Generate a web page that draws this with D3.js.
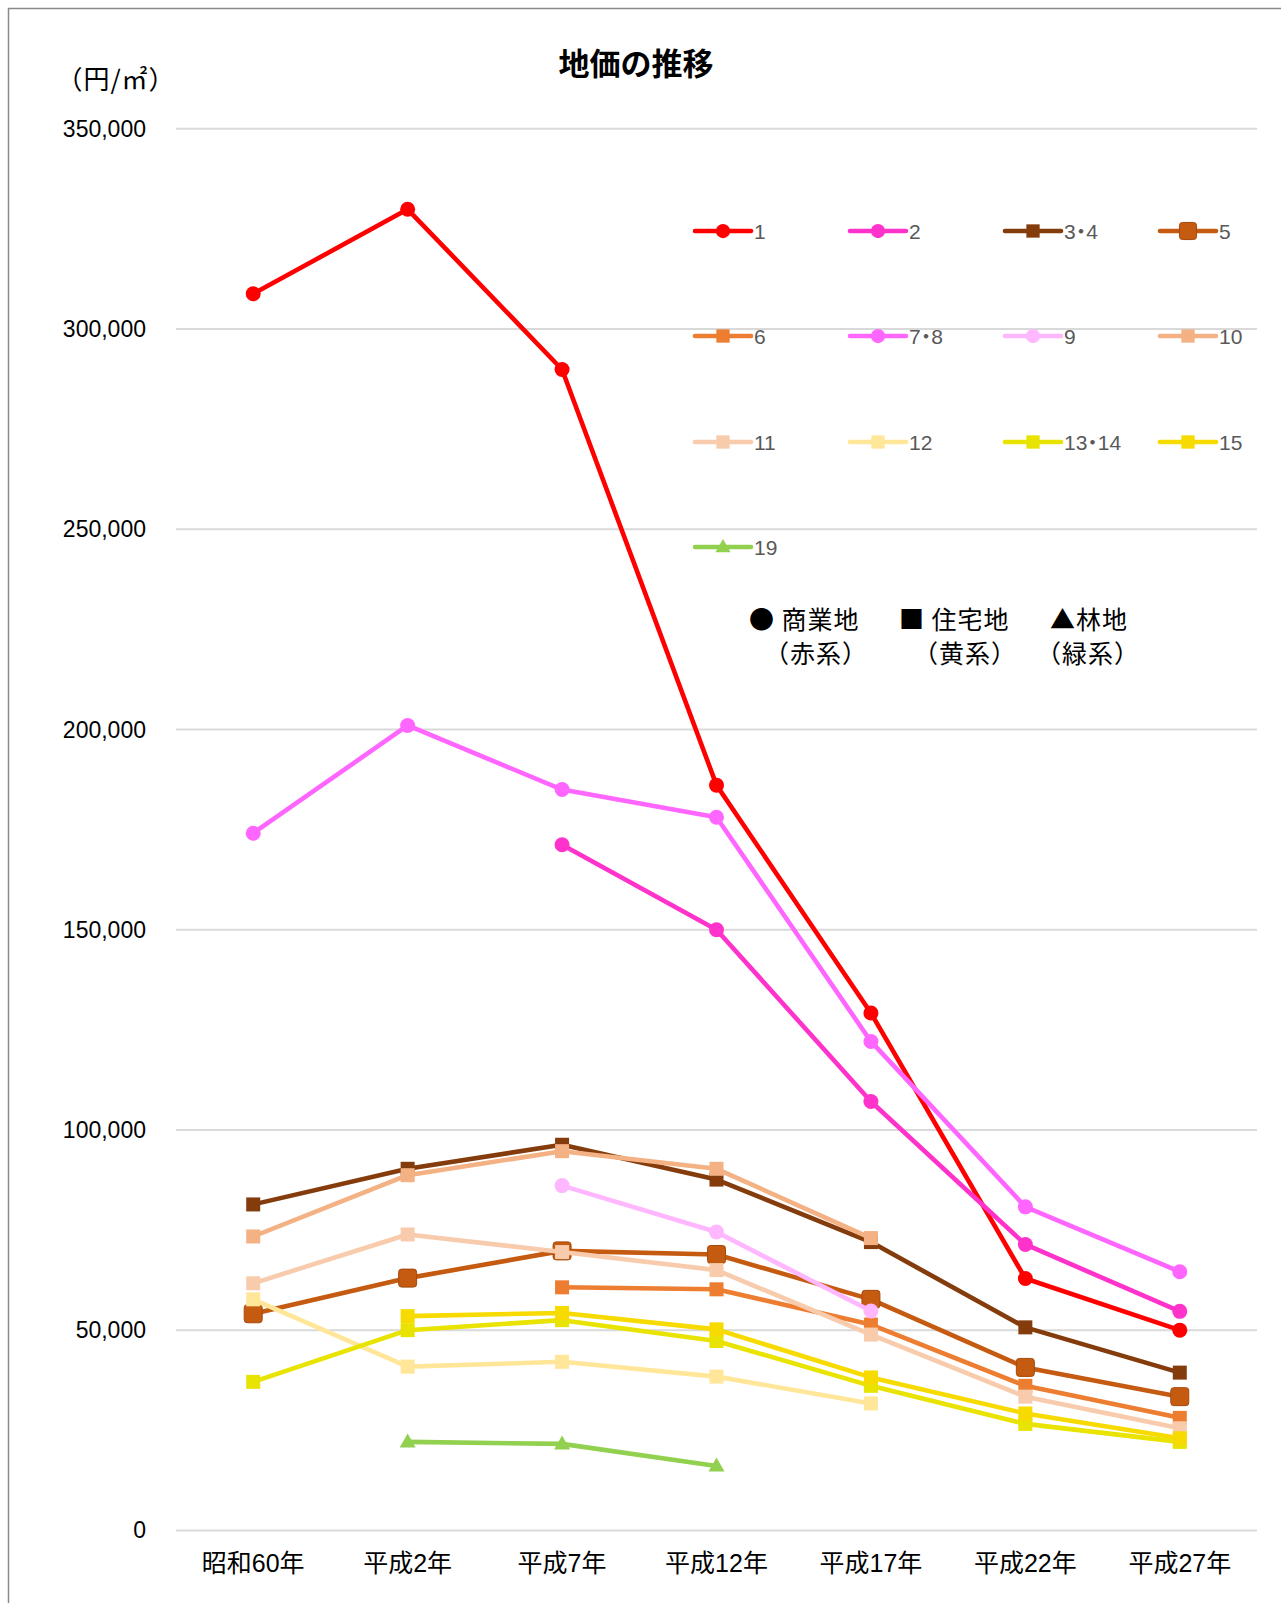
<!DOCTYPE html>
<html><head><meta charset="utf-8">
<script src="https://cdn.jsdelivr.net/npm/d3@7"></script>
<style>
html,body{margin:0;padding:0;background:#fff;}
svg{display:block;}
text{font-family:'Liberation Sans','Noto Sans CJK JP',sans-serif;}
text.cjk{font-family:'Noto Sans CJK JP',sans-serif;}
text.leg{font-feature-settings:"palt";}
</style></head>
<body>
<svg id="chart" width="1281" height="1603"></svg>
<script>
// ---------- data ----------
const categories = ['昭和60年','平成2年','平成7年','平成12年','平成17年','平成22年','平成27年'];
const yTicks = [0, 50000, 100000, 150000, 200000, 250000, 300000, 350000];

const s1    = [308800, 329900, 289900, 186100, 129200, 62900, 50000];
const s2    = [null, null, 171200, 150000, 107100, 71400, 54700];
const s34   = [81400, 90300, 96300, 87600, 72000, 50700, 39400];
const s5    = [54100, 63000, 69800, 68900, 57700, 40700, 33400];
const s6    = [null, null, 60700, 60200, 51400, 36100, 28100];
const s78   = [174100, 201000, 185000, 178100, 122100, 80800, 64600];
const s9    = [null, null, 86100, 74500, 54800, null, null];
const s10   = [73400, 88700, 94700, 90300, 73000, null, null];
const s11   = [61700, 73900, 69500, 65000, 48900, 33400, 25500];
const s12   = [57700, 40900, 42100, 38400, 31700, null, null];
const s1314 = [37100, 50000, 52500, 47300, 36100, 26600, 22100];
const s15   = [null, 53500, 54300, 50200, 38200, 29200, 23000];
const s19   = [null, 22100, 21600, 16100, null, null, null];

const seriesNames = ['1','2','3・4','5','6','7・8','9','10','11','12','13・14','15','19'];
const seriesValues = [s1,s2,s34,s5,s6,s78,s9,s10,s11,s12,s1314,s15,s19];

// ---------- styles ----------
const seriesStyle = [
  {color:'#FF0000', shape:'circle'},
  {color:'#FF33CC', shape:'circle'},
  {color:'#843C0C', shape:'square'},
  {color:'#C55A11', shape:'bigsquare'},
  {color:'#ED7D31', shape:'square'},
  {color:'#FF66FF', shape:'circle'},
  {color:'#FFB7FF', shape:'circle'},
  {color:'#F4B183', shape:'square'},
  {color:'#F8CBAD', shape:'square'},
  {color:'#FFE699', shape:'square'},
  {color:'#E8E300', shape:'square'},
  {color:'#F7DA00', shape:'square'},
  {color:'#92D050', shape:'triangle'}
];

const svg = d3.select('#chart');

// outer border
svg.append('rect').attr('x',8.5).attr('y',8.5).attr('width',1400).attr('height',1800)
  .attr('fill','#fff').attr('stroke','#8a8a8a').attr('stroke-width',1.5);

const plotL = 176, plotR = 1257, plotT = 128.8, plotB = 1530.4;
const x = d3.scaleBand().domain(categories).range([plotL, plotR]);
const xc = c => x(c) + x.bandwidth()/2;
const y = d3.scaleLinear().domain([0, 350000]).range([plotB, plotT]);

// gridlines
svg.append('g').selectAll('line').data(yTicks).join('line')
  .attr('x1',plotL).attr('x2',plotR)
  .attr('y1',d=>y(d)).attr('y2',d=>y(d))
  .attr('stroke','#d9d9d9').attr('stroke-width',2);

// y tick labels
svg.append('g').selectAll('text').data(yTicks).join('text')
  .attr('x',146).attr('y',d=>y(d)).attr('dy','0.35em')
  .attr('text-anchor','end').attr('font-size',23).attr('fill','#000')
  .text(d=>d3.format(',')(d));

// x labels
svg.append('g').selectAll('text').data(categories).join('text')
  .attr('x',d=>xc(d)).attr('y',1572)
  .attr('text-anchor','middle').attr('font-size',25).attr('fill','#000')
  .text(d=>d);

// title & unit
svg.append('text').attr('x',636).attr('y',75).attr('text-anchor','middle')
  .attr('font-size',31).attr('font-weight','bold').attr('fill','#000').text('地価の推移');
svg.append('text').attr('class','cjk').attr('x',116).attr('y',89).attr('text-anchor','middle')
  .attr('font-size',26).attr('letter-spacing',1).attr('fill','#000').text('（円/㎡）');

// marker drawing
function drawMarker(g, shape, color, cx, cy, scale){
  scale = scale || 1;
  if(shape==='circle'){
    g.append('circle').attr('cx',cx).attr('cy',cy).attr('r',7.5*scale).attr('fill',color);
  } else if(shape==='square'){
    const s=14*scale;
    g.append('rect').attr('x',cx-s/2).attr('y',cy-s/2).attr('width',s).attr('height',s).attr('fill',color);
  } else if(shape==='bigsquare'){
    const s=18*scale;
    g.append('rect').attr('x',cx-s/2).attr('y',cy-s/2).attr('width',s).attr('height',s)
      .attr('rx',3).attr('fill',color).attr('stroke','#A64A0C').attr('stroke-width',1);
  } else if(shape==='triangle'){
    const w=16*scale, h=14*scale;
    g.append('path').attr('d',`M${cx},${cy-h*0.6}L${cx+w/2},${cy+h*0.4}L${cx-w/2},${cy+h*0.4}Z`).attr('fill',color);
  }
}

// series
const line = d3.line().defined(d=>d.v!=null).x(d=>xc(d.c)).y(d=>y(d.v));
seriesValues.forEach((vals,i)=>{
  const st = seriesStyle[i];
  const pts = vals.map((v,j)=>({c:categories[j], v}));
  const g = svg.append('g');
  g.append('path').attr('d',line(pts)).attr('fill','none')
    .attr('stroke',st.color).attr('stroke-width',4.6)
    .attr('stroke-linejoin','round').attr('stroke-linecap','round');
  pts.filter(p=>p.v!=null).forEach(p=>drawMarker(g, st.shape, st.color, xc(p.c), y(p.v)));
});

// legend
const legCols = [695, 850, 1005, 1160];
const legRows = [231, 336, 442, 547];
const lg = svg.append('g');
seriesNames.forEach((n,i)=>{
  const lx = legCols[i%4], ly = legRows[Math.floor(i/4)];
  const st = seriesStyle[i];
  const g = lg.append('g');
  g.append('line').attr('x1',lx).attr('x2',lx+56).attr('y1',ly).attr('y2',ly)
    .attr('stroke',st.color).attr('stroke-width',4.6).attr('stroke-linecap','round');
  drawMarker(g, st.shape, st.color, lx+28, ly, 0.95);
  g.append('text').attr('class','leg').attr('x',lx+59).attr('y',ly).attr('dy','0.36em')
    .attr('font-size',21).attr('fill','#595959').text(n);
});

// category notes
const notes1 = [['● 商業地',749],['■ 住宅地',899],['▲林地',1050]];
const notes2 = [['（赤系）',764],['（黄系）',913],['（緑系）',1036]];
svg.append('g').selectAll('text').data(notes1).join('text').attr('class','cjk')
  .attr('x',d=>d[1]).attr('y',620).attr('dy','0.36em')
  .attr('font-size',25).attr('letter-spacing',1).attr('fill','#000').text(d=>d[0]);
svg.append('g').selectAll('text').data(notes2).join('text').attr('class','cjk')
  .attr('x',d=>d[1]).attr('y',654).attr('dy','0.36em')
  .attr('font-size',25).attr('letter-spacing',1).attr('fill','#000').text(d=>d[0]);
</script>
</body></html>
